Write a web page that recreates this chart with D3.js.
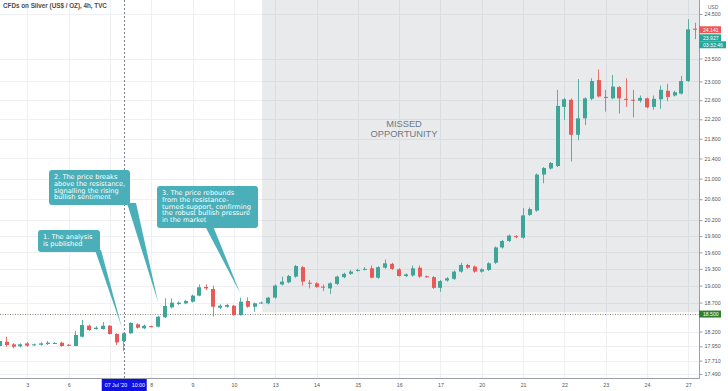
<!DOCTYPE html>
<html>
<head>
<meta charset="utf-8">
<script src="https://cdn.jsdelivr.net/npm/d3@7"></script>
<style>
  body { margin: 0; background: #fff; }
  svg { display: block; }
</style>
</head>
<body>
<svg width="728" height="391"></svg>
<script>
// 4h candles, 2 Jul -> 27 Jul 2020 (one entry per candle)
const opens = [17.955, 18.026, 17.983, 17.950, 17.999, 17.966, 17.976, 17.988, 18.000, 18.010,
  17.975, 17.955, 18.112, 18.299, 18.243, 18.243, 18.299, 18.158, 18.038, 18.170,
  18.323, 18.255, 18.292, 18.282, 18.444, 18.617, 18.675, 18.686, 18.716, 18.822,
  18.975, 18.939, 18.610, 18.627, 18.645, 18.483, 18.728, 18.627, 18.690, 18.687,
  18.786, 19.020, 19.058, 19.160, 19.330, 19.050, 19.040, 18.980, 18.950, 19.030,
  19.150, 19.210, 19.262, 19.290, 19.310, 19.140, 19.320, 19.390, 19.290, 19.170,
  19.180, 19.320, 19.165, 19.150, 18.960, 19.090, 19.120, 19.250, 19.370, 19.340,
  19.250, 19.280, 19.410, 19.690, 19.810, 19.900, 19.870, 20.300, 20.380, 21.080,
  21.200, 21.250, 22.460, 22.610, 21.880, 22.220, 22.630, 23.030, 22.670, 22.640,
  22.880, 22.630, 22.610, 22.590, 22.640, 22.460, 22.620, 22.800, 22.700, 22.740,
  23.010, 24.165];
const highs = [18.070, 18.112, 18.004, 18.000, 18.020, 17.995, 18.020, 18.038, 18.020, 18.030,
  17.990, 18.209, 18.397, 18.320, 18.290, 18.363, 18.310, 18.170, 18.180, 18.360,
  18.340, 18.320, 18.300, 18.470, 18.775, 18.775, 18.720, 18.750, 18.840, 19.020,
  19.020, 19.000, 18.670, 18.680, 18.660, 18.786, 18.790, 18.700, 18.720, 18.800,
  19.020, 19.160, 19.190, 19.370, 19.350, 19.100, 19.060, 19.020, 19.060, 19.180,
  19.230, 19.280, 19.300, 19.330, 19.360, 19.350, 19.470, 19.410, 19.310, 19.220,
  19.360, 19.360, 19.180, 19.170, 19.100, 19.150, 19.270, 19.410, 19.390, 19.360,
  19.310, 19.420, 19.710, 19.830, 19.930, 19.920, 20.430, 20.440, 21.100, 21.230,
  21.330, 22.820, 22.650, 22.640, 23.050, 22.660, 23.070, 23.260, 22.820, 23.140,
  22.900, 23.070, 22.820, 22.700, 22.660, 22.700, 22.910, 22.950, 22.800, 23.120,
  24.380, 24.300];
const lows = [17.920, 17.943, 17.916, 17.930, 17.940, 17.955, 17.960, 17.971, 17.990, 17.940,
  17.950, 17.950, 18.100, 18.210, 18.230, 18.230, 18.150, 17.971, 17.870, 18.160,
  18.250, 18.240, 18.270, 18.270, 18.430, 18.600, 18.660, 18.670, 18.700, 18.810,
  18.920, 18.454, 18.590, 18.610, 18.470, 18.470, 18.610, 18.540, 18.680, 18.670,
  18.770, 19.000, 19.040, 19.140, 19.000, 18.950, 18.960, 18.900, 18.850, 19.010,
  19.130, 19.190, 19.250, 19.270, 19.130, 19.120, 19.300, 19.280, 19.160, 19.150,
  19.160, 19.140, 19.140, 18.940, 18.890, 19.070, 19.100, 19.230, 19.300, 19.230,
  19.230, 19.260, 19.390, 19.670, 19.790, 19.860, 19.850, 20.280, 20.360, 20.910,
  21.180, 21.230, 22.190, 21.340, 21.770, 22.080, 22.600, 22.660, 22.360, 22.620,
  22.320, 22.460, 22.240, 22.550, 22.430, 22.400, 22.420, 22.580, 22.680, 22.720,
  22.990, 23.930];
const closes = [18.038, 17.971, 17.943, 17.983, 17.960, 17.983, 17.999, 18.010, 18.005, 17.955,
  17.968, 18.141, 18.311, 18.226, 18.265, 18.299, 18.158, 18.016, 18.170, 18.346,
  18.265, 18.299, 18.285, 18.454, 18.640, 18.698, 18.698, 18.728, 18.822, 18.970,
  18.950, 18.627, 18.645, 18.657, 18.483, 18.716, 18.627, 18.687, 18.700, 18.786,
  19.000, 19.070, 19.170, 19.350, 19.070, 19.040, 18.975, 18.970, 19.040, 19.160,
  19.210, 19.250, 19.280, 19.300, 19.140, 19.330, 19.400, 19.300, 19.170, 19.200,
  19.310, 19.160, 19.155, 18.960, 19.080, 19.130, 19.250, 19.370, 19.320, 19.250,
  19.290, 19.400, 19.690, 19.810, 19.910, 19.885, 20.290, 20.410, 21.080, 21.210,
  21.310, 22.480, 22.620, 21.880, 22.220, 22.640, 23.010, 22.680, 22.650, 22.890,
  22.640, 22.620, 22.600, 22.650, 22.450, 22.630, 22.820, 22.670, 22.770, 23.010,
  24.150, 24.141];

// day labels on the time axis and the candle index where each day starts
const dayLabels = ['3', '6', '7', '8', '9', '10', '13', '14', '15', '16', '17', '20', '21', '22', '23', '24', '27'];
const dayStart = [4, 10, 16, 22, 28, 34, 40, 46, 52, 58, 64, 70, 76, 82, 88, 94, 100];

// 24.000 sits under the live price tags, so it is left out
const priceTicks = [17.49, 17.71, 17.95, 18.2, 18.7, 19.0, 19.3, 19.6, 19.9, 20.2, 20.6,
  21.0, 21.4, 21.8, 22.2, 22.6, 23.0, 23.5, 24.5];

const supportLevel = 18.5;
const lastPrice = 24.141;
const bidPrice = 23.927;
const countdown = '03:32:46';
const cursorIndex = 18;
const cursorLabel = "07 Jul '20";
const cursorTime = '10:00';
const missedFrom = 38.1;

const notes = [
  { lines: ['1. The analysis', 'is published'], tip: [17.75, 18.26], box: [38, 230, 62, 22], base: [95, 101] },
  { lines: ['2. The price breaks', 'above the resistance,', 'signalling the rising', 'bullish sentiment'],
    tip: [22.98, 18.71], box: [49, 170, 81, 35], base: [127, 136] },
  { lines: ['3. The price rebounds', 'from the resistance-', 'turned-support, confirming', 'the robust bullish pressure', 'in the market'],
    tip: [34.9, 18.87], box: [157, 186, 101, 42], base: [205, 213] }
];

const UP = '#3fa598', DOWN = '#e85a57';
const plotRight = 699, plotBottom = 378;

const svg = d3.select('svg');
const x = d3.scaleLinear().domain([0.03, 101.55]).range([0, plotRight]);
const y = d3.scaleLog().domain([17.425, 24.823]).range([plotBottom, 0]);
const px = v => Math.round(v) + 0.5;

// grid
const grid = svg.append('g');
grid.selectAll('line.v')
  .data(dayStart)
  .enter().append('line')
  .attr('x1', d => px(x(d))).attr('x2', d => px(x(d)))
  .attr('y1', 0).attr('y2', plotBottom)
  .attr('stroke', '#eef0f4');
grid.selectAll('line.h')
  .data(priceTicks)
  .enter().append('line')
  .attr('x1', 0).attr('x2', plotRight)
  .attr('y1', d => px(y(d))).attr('y2', d => px(y(d)))
  .attr('stroke', '#eef0f4');

// missed opportunity zone
svg.append('rect')
  .attr('x', x(missedFrom)).attr('y', 0)
  .attr('width', plotRight - x(missedFrom))
  .attr('height', y(18.53))
  .attr('fill', 'rgba(110,112,120,0.15)');

svg.append('text')
  .attr('x', 402).attr('y', 127)
  .attr('text-anchor', 'middle')
  .attr('font-family', 'Liberation Sans, Arial, sans-serif')
  .attr('font-size', 9.3)
  .attr('fill', '#6d7886')
  .selectAll('tspan')
  .data(['MISSED', 'OPPORTUNITY'])
  .enter().append('tspan')
  .attr('x', 404).attr('dy', (d, i) => i ? 9.5 : 0)
  .text(d => d);

// support line
svg.append('line')
  .attr('x1', 0).attr('x2', plotRight)
  .attr('y1', px(y(supportLevel))).attr('y2', px(y(supportLevel)))
  .attr('stroke', '#8c8c7e').attr('stroke-dasharray', '1,1.5');

// cursor line
svg.append('line')
  .attr('x1', px(x(cursorIndex))).attr('x2', px(x(cursorIndex)))
  .attr('y1', 0).attr('y2', plotBottom)
  .attr('stroke', '#7c808c').attr('stroke-dasharray', '2,2');

// candles
const candles = d3.range(opens.length).map(i => ({
  i, o: opens[i], h: highs[i], l: lows[i], c: closes[i]
}));
const cg = svg.append('g').selectAll('g')
  .data(candles)
  .enter().append('g');
cg.append('line')
  .attr('x1', d => px(x(d.i) - 0.5)).attr('x2', d => px(x(d.i) - 0.5))
  .attr('y1', d => y(d.h)).attr('y2', d => y(d.l))
  .attr('stroke', d => d.c >= d.o ? UP : DOWN)
  .attr('stroke-opacity', 0.85);
cg.append('rect')
  .attr('x', d => Math.round(x(d.i)) - 2)
  .attr('width', 4)
  .attr('y', d => y(Math.max(d.o, d.c)))
  .attr('height', d => Math.max(1, y(Math.min(d.o, d.c)) - y(Math.max(d.o, d.c))))
  .attr('fill', d => d.c >= d.o ? UP : DOWN);

// callouts
const NOTE = '#4aafb9';
const ng = svg.append('g').selectAll('g')
  .data(notes)
  .enter().append('g');
ng.append('path')
  .attr('d', d => {
    const bx = d.box[1] + d.box[3] - 2;
    return `M${d.base[0]},${bx}L${x(d.tip[0])},${y(d.tip[1])}L${d.base[1]},${bx}Z`;
  })
  .attr('fill', NOTE);
ng.append('rect')
  .attr('x', d => d.box[0]).attr('y', d => d.box[1])
  .attr('width', d => d.box[2]).attr('height', d => d.box[3])
  .attr('rx', 3)
  .attr('fill', NOTE);
ng.append('text')
  .attr('font-family', 'DejaVu Sans, Verdana, sans-serif')
  .attr('font-size', 6.6)
  .attr('fill', '#fff')
  .selectAll('tspan')
  .data(d => d.lines.map((t, k) => ({ t, k, d })))
  .enter().append('tspan')
  .attr('x', e => e.d.box[0] + 5)
  .attr('y', e => e.d.box[1] + 9 + e.k * 6.8)
  .text(e => e.t);

// title
svg.append('text')
  .attr('x', 3).attr('y', 7.5)
  .attr('font-family', 'Liberation Sans, Arial, sans-serif')
  .attr('font-size', 6.3)
  .attr('font-weight', 'bold')
  .attr('fill', '#4a4a4a')
  .text('CFDs on Silver (US$ / OZ), 4h, TVC');

// axes
svg.append('rect')
  .attr('x', plotRight).attr('y', 0).attr('width', 728 - plotRight).attr('height', 391)
  .attr('fill', '#fff');
svg.append('rect')
  .attr('x', 0).attr('y', plotBottom).attr('width', 728).attr('height', 391 - plotBottom)
  .attr('fill', '#fff');

const yAxis = d3.axisRight(y)
  .tickValues(priceTicks)
  .tickFormat(d3.format('.3f'))
  .tickSize(3)
  .tickPadding(2);
const ya = svg.append('g')
  .attr('transform', `translate(${plotRight + 0.5},0)`)
  .call(yAxis);
ya.select('.domain').attr('stroke', '#9a9ea8').attr('d', `M0,0V${plotBottom + 0.5}`);
ya.selectAll('.tick line').attr('stroke', '#9a9ea8');
ya.selectAll('.tick text')
  .attr('font-family', 'Liberation Sans, Arial, sans-serif')
  .attr('font-size', 5.3)
  .attr('fill', '#555');

// the day under the cursor tag is covered by it, so its label is not drawn
const xAxis = d3.axisBottom(x)
  .tickValues(dayStart.filter(d => Math.abs(x(d) - x(cursorIndex)) > 24))
  .tickFormat(d => dayLabels[dayStart.indexOf(d)])
  .tickSize(0)
  .tickPadding(5);
const xa = svg.append('g')
  .attr('transform', `translate(0,${plotBottom + 0.5})`)
  .call(xAxis);
xa.select('.domain').attr('stroke', '#9a9ea8').attr('d', `M0,0H${plotRight + 0.5}`);
xa.selectAll('.tick text')
  .attr('font-family', 'Liberation Sans, Arial, sans-serif')
  .attr('font-size', 5.3)
  .attr('fill', '#555');

// USD label
svg.append('text')
  .attr('x', 713).attr('y', 9)
  .attr('text-anchor', 'middle')
  .attr('font-family', 'Liberation Sans, Arial, sans-serif')
  .attr('font-size', 5)
  .attr('fill', '#666')
  .text('USD');

// price tags on the right
const tags = [
  { v: lastPrice, text: d3.format('.3f')(lastPrice), fill: '#ec5855', dy: 0 },
  { v: bidPrice, text: d3.format('.3f')(bidPrice), fill: '#26a69a', dy: -1.5 },
  { v: bidPrice, text: countdown, fill: '#26a69a', dy: 5.5 },
  { v: supportLevel, text: d3.format('.3f')(supportLevel), fill: '#2f7f32', dy: 0 }
];
const tg = svg.append('g').selectAll('g')
  .data(tags)
  .enter().append('g')
  .attr('transform', d => `translate(${plotRight},${y(d.v) + d.dy})`);
tg.append('rect')
  .attr('x', 0).attr('y', -3.5)
  .attr('width', d => d.text.length > 6 ? 27 : 22).attr('height', 7)
  .attr('fill', d => d.fill);
tg.append('text')
  .attr('x', 4).attr('y', 1.8)
  .attr('font-family', 'Liberation Sans, Arial, sans-serif')
  .attr('font-size', 5.1)
  .attr('fill', '#fff')
  .text(d => d.text);

// cursor date tag
const ct = svg.append('g')
  .attr('transform', `translate(${x(cursorIndex)},${plotBottom})`);
ct.append('rect')
  .attr('x', -22).attr('y', 1).attr('width', 45).attr('height', 12)
  .attr('fill', '#1010e6');
ct.append('text')
  .attr('x', -19).attr('y', 9)
  .attr('font-family', 'Liberation Sans, Arial, sans-serif')
  .attr('font-size', 5.3)
  .attr('fill', '#fff')
  .text(cursorLabel);
ct.append('text')
  .attr('x', 8).attr('y', 9)
  .attr('font-family', 'Liberation Sans, Arial, sans-serif')
  .attr('font-size', 5.3)
  .attr('fill', '#fff')
  .text(cursorTime);
</script>
</body>
</html>
